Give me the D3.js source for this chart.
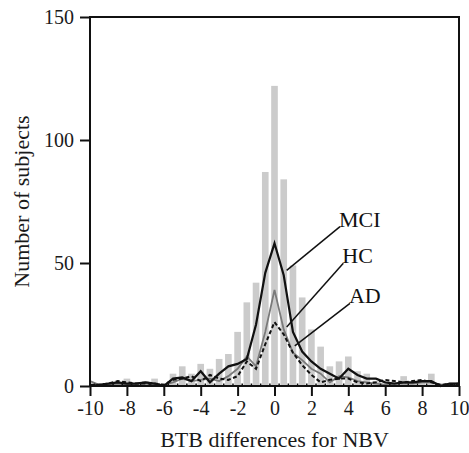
<!DOCTYPE html>
<html>
<head>
<meta charset="utf-8">
<script src="https://cdn.jsdelivr.net/npm/d3@7"></script>
<style>
  body { margin: 0; background: #fff; }
  text { font-family: "Liberation Serif", "Times New Roman", serif; }
</style>
</head>
<body>
<div id="mainChart"></div>
<script>
// bins every 0.5 from -10 to 10
const binCenters = d3.range(41).map(i => -10 + i * 0.5);

const allCounts = [0, 0, 1, 1, 3, 1, 2, 3, 1, 5, 8, 5, 9, 7, 11, 13, 22, 34, 42, 87,
  122, 84, 49, 36, 23, 16, 8, 10, 12, 6, 5, 2, 1, 1, 4, 1, 2, 5, 1, 1, 0];

const mciCounts = [0, 0.5, 1, 1.5, 1, 1, 1.5, 1, 0, 3, 3.5, 2, 6, 1.5, 5, 8, 9, 11, 25, 46,
  58, 45, 22, 14, 10, 7, 5, 3, 7, 4.5, 3, 3, 1.5, 1, 1.5, 1.5, 2, 2, 0, 1, 1];

const hcCounts = [2, 0.5, 0.5, 1, 0.5, 1, 1, 0.5, 0.5, 1.5, 3, 2, 2.5, 3, 2, 4, 7, 12, 8, 22,
  39, 23, 13.5, 10.5, 7, 5, 1.5, 4, 3.5, 2, 1.5, 1, 0.5, 1, 1, 1, 1.5, 1.5, 0.5, 1, 1];

const adCounts = [0.5, 0.5, 1, 2, 1.5, 1, 1, 1, 0.5, 2.5, 3, 4, 2, 4.5, 3, 2.5, 4, 10, 7, 17,
  26, 21, 13.5, 8.5, 4.5, 1.5, 2.5, 3, 3, 1.5, 1, 1.5, 2.5, 2, 1.5, 2, 2.5, 1.5, 0.5, 0.5, 1];

const xTicks = d3.range(-10, 11, 2);
const yTicks = [0, 50, 100, 150];

// labels: [text, label x, label y, arrow x, arrow y] in data units
const seriesLabels = [
  ['MCI', 3.55, 64.8, 0.66, 47],
  ['HC', 3.73, 49.9, 0.66, 24],
  ['AD', 4.09, 33.6, 1.1, 16.3]
];

const CHART_SIZE = { width: 469, height: 453 };
const MARGIN = { top: 17, right: 10, bottom: 67, left: 90 };

const x = d3.scaleLinear()
  .domain([-10, 10])
  .range([MARGIN.left, CHART_SIZE.width - MARGIN.right]);
const y = d3.scaleLinear()
  .domain([0, 150])
  .range([CHART_SIZE.height - MARGIN.bottom, MARGIN.top]);

const svg = d3.select('#mainChart')
  .append('svg')
  .attr('width', CHART_SIZE.width)
  .attr('height', CHART_SIZE.height);

// bars
const barW = x(0.36) - x(0);
svg.append('g')
  .selectAll('rect')
  .data(binCenters)
  .join('rect')
  .attr('x', (d, i) => x(d) - barW / 2)
  .attr('y', (d, i) => y(allCounts[i]))
  .attr('width', barW)
  .attr('height', (d, i) => y(0) - y(allCounts[i]))
  .attr('fill', '#cbcbcb');

// lines
const line = d3.line()
  .x((d, i) => x(binCenters[i]))
  .y(d => y(d));

svg.append('path')
  .attr('d', line(hcCounts))
  .attr('fill', 'none')
  .attr('stroke', '#7a7a7a')
  .attr('stroke-width', 1.8);

svg.append('path')
  .attr('d', line(adCounts))
  .attr('fill', 'none')
  .attr('stroke', '#111')
  .attr('stroke-width', 2)
  .attr('stroke-dasharray', '4,2.5');

svg.append('path')
  .attr('d', line(mciCounts))
  .attr('fill', 'none')
  .attr('stroke', '#111')
  .attr('stroke-width', 2.2);

// frame
svg.append('rect')
  .attr('x', x(-10))
  .attr('y', y(150))
  .attr('width', x(10) - x(-10))
  .attr('height', y(0) - y(150))
  .attr('fill', 'none')
  .attr('stroke', '#111')
  .attr('stroke-width', 2);

// small bin-edge ticks on the baseline
svg.append('g')
  .selectAll('line')
  .data(binCenters.slice(0, -1))
  .join('line')
  .attr('x1', d => x(d + 0.25))
  .attr('x2', d => x(d + 0.25))
  .attr('y1', y(0))
  .attr('y2', y(0) - 2.5)
  .attr('stroke', '#111')
  .attr('stroke-width', 1.5);

const xAxis = svg.append('g')
  .attr('transform', `translate(0, ${y(0)})`)
  .call(d3.axisBottom(x).tickValues(xTicks).tickSize(10).tickPadding(5).tickFormat(d3.format('d')));
const yAxis = svg.append('g')
  .attr('transform', `translate(${x(-10)}, 0)`)
  .call(d3.axisLeft(y).tickValues(yTicks).tickSize(10).tickPadding(6));

[xAxis, yAxis].forEach(a => {
  a.select('.domain').remove();
  a.selectAll('line').attr('stroke', '#111').attr('stroke-width', 2);
  a.selectAll('text')
    .attr('fill', '#1a1a1a')
    .style('font-family', '"Liberation Serif", serif')
    .style('font-size', '20px');
});
// use a plain hyphen like the original
xAxis.selectAll('text').text(d => String(d).replace('\u2212', '-'));

// axis titles
svg.append('text')
  .attr('x', (x(-10) + x(10)) / 2)
  .attr('y', 447)
  .attr('text-anchor', 'middle')
  .attr('fill', '#1a1a1a')
  .style('font-size', '22px')
  .text('BTB differences for NBV');

svg.append('text')
  .attr('transform', `translate(29, ${(y(0) + y(150)) / 2}) rotate(-90)`)
  .attr('text-anchor', 'middle')
  .attr('fill', '#1a1a1a')
  .style('font-size', '22px')
  .text('Number of subjects');

// series labels with leader lines
const lab = svg.append('g');
seriesLabels.forEach(([name, lx, ly, ax, ay]) => {
  lab.append('line')
    .attr('x1', x(lx))
    .attr('y1', y(ly))
    .attr('x2', x(ax))
    .attr('y2', y(ay))
    .attr('stroke', '#111')
    .attr('stroke-width', 1.5);
  lab.append('text')
    .attr('x', x(lx) - 1)
    .attr('y', y(ly))
    .attr('fill', '#111')
    .style('font-size', '22px')
    .text(name);
});
</script>
</body>
</html>
